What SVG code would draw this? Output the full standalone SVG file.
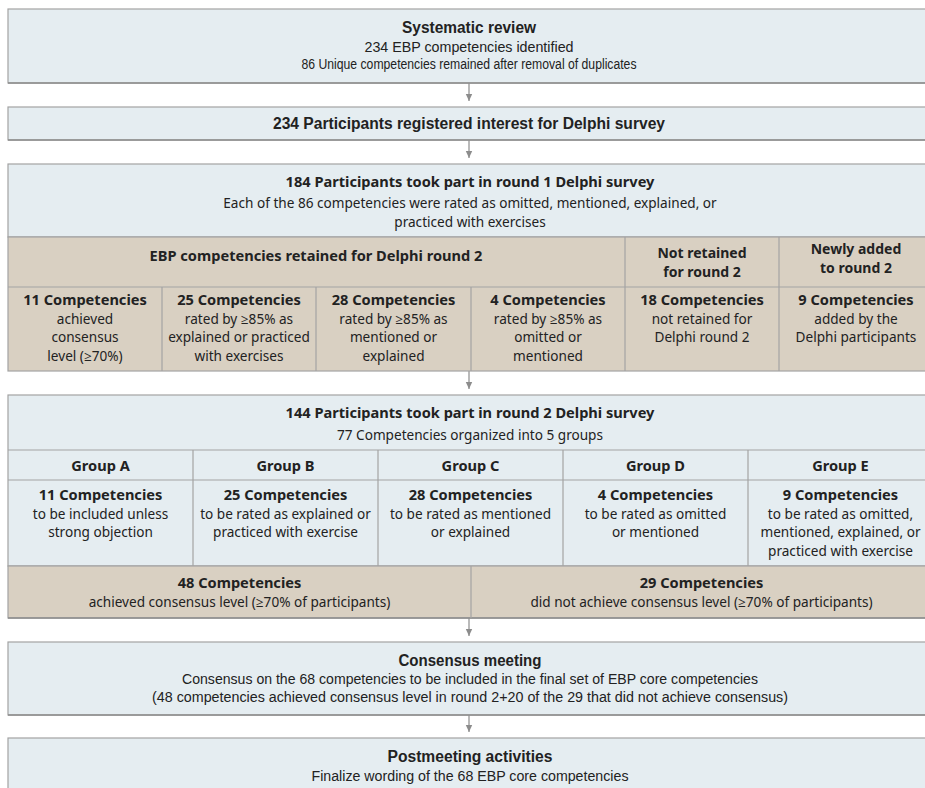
<svg xmlns="http://www.w3.org/2000/svg" width="925" height="788" viewBox="0 0 925 788">
<style>
.blue{fill:#e5edf1;stroke:#a3a3a3;stroke-width:1.2}
.tan{fill:#d9d0c2;stroke:#a3a3a3;stroke-width:1.2}
.div{stroke:#a3a3a3;stroke-width:1.2}
.shadow{stroke:#8c8c8c;stroke-width:1.6}
.cn{font-family:"Liberation Sans",Arial,sans-serif;font-size:15.5px;fill:#222;text-anchor:middle}
.cb{font-family:"Liberation Sans",Arial,sans-serif;font-size:16px;font-weight:bold;fill:#222;text-anchor:middle}
.n{font-family:"Noto Sans","Open Sans",sans-serif;font-size:13.6px;fill:#222;text-anchor:middle}
.b{font-family:"Noto Sans","Open Sans",sans-serif;font-size:14.6px;font-weight:bold;fill:#222;text-anchor:middle}
.h{font-family:"Noto Sans","Open Sans",sans-serif;font-size:14px;font-weight:bold;fill:#222;text-anchor:middle}
.conn{stroke:#8c8c8c;stroke-width:1.2;fill:none}
</style>
<defs>
<marker id="ah" markerWidth="8" markerHeight="8" refX="7" refY="4" orient="auto" markerUnits="userSpaceOnUse">
<path d="M0,0.8 L7,4 L0,7.2 Z" fill="#8c8c8c"/>
</marker>
</defs>

<g id="connectors">
<line class="conn" x1="469" y1="83" x2="469" y2="101" marker-end="url(#ah)"/>
<line class="conn" x1="469" y1="140" x2="469" y2="158" marker-end="url(#ah)"/>
<line class="conn" x1="469" y1="371" x2="469" y2="389" marker-end="url(#ah)"/>
<line class="conn" x1="469" y1="618" x2="469" y2="636" marker-end="url(#ah)"/>
<line class="conn" x1="469" y1="715" x2="469" y2="732" marker-end="url(#ah)"/>
</g>

<g id="systematic-review">
<rect class="blue" x="8" y="9" width="924" height="74"/>
<line class="shadow" x1="8" y1="83" x2="932" y2="83"/>
<text class="cb" x="469" y="33" textLength="134" lengthAdjust="spacingAndGlyphs">Systematic review</text>
<text class="cn" x="469" y="52" textLength="209" lengthAdjust="spacingAndGlyphs">234 EBP competencies identified</text>
<text class="cn" x="469" y="69" textLength="335" lengthAdjust="spacingAndGlyphs">86 Unique competencies remained after removal of duplicates</text>
</g>

<g id="registered">
<rect class="blue" x="8" y="107" width="924" height="33"/>
<line class="shadow" x1="8" y1="140" x2="932" y2="140"/>
<text class="cb" x="469" y="129" textLength="392" lengthAdjust="spacingAndGlyphs">234 Participants registered interest for Delphi survey</text>
</g>

<g id="round1">
<rect class="blue" x="8" y="164" width="924" height="73"/>
<rect class="tan" x="8" y="237" width="924" height="134"/>
<line class="div" x1="8" y1="287" x2="932" y2="287"/>
<line class="div" x1="625" y1="237" x2="625" y2="371"/>
<line class="div" x1="779" y1="237" x2="779" y2="371"/>
<line class="div" x1="162" y1="287" x2="162" y2="371"/>
<line class="div" x1="316" y1="287" x2="316" y2="371"/>
<line class="div" x1="471" y1="287" x2="471" y2="371"/>
<text class="b" x="470" y="187">184 Participants took part in round 1 Delphi survey</text>
<text class="n" x="470" y="208">Each of the 86 competencies were rated as omitted, mentioned, explained, or</text>
<text class="n" x="470" y="227">practiced with exercises</text>
<text class="b" x="316" y="261">EBP competencies retained for Delphi round 2</text>
<text class="h" x="702" y="258">Not retained</text>
<text class="h" x="702" y="277">for round 2</text>
<text class="h" x="856" y="254">Newly added</text>
<text class="h" x="856" y="273">to round 2</text>

<text class="b" x="85" y="305">11 Competencies</text>
<text class="n" x="85" y="324">achieved</text>
<text class="n" x="85" y="342">consensus</text>
<text class="n" x="85" y="361">level (≥70%)</text>

<text class="b" x="239" y="305">25 Competencies</text>
<text class="n" x="239" y="324">rated by ≥85% as</text>
<text class="n" x="239" y="342">explained or practiced</text>
<text class="n" x="239" y="361">with exercises</text>

<text class="b" x="393.5" y="305">28 Competencies</text>
<text class="n" x="393.5" y="324">rated by ≥85% as</text>
<text class="n" x="393.5" y="342">mentioned or</text>
<text class="n" x="393.5" y="361">explained</text>

<text class="b" x="548" y="305">4 Competencies</text>
<text class="n" x="548" y="324">rated by ≥85% as</text>
<text class="n" x="548" y="342">omitted or</text>
<text class="n" x="548" y="361">mentioned</text>

<text class="b" x="702" y="305">18 Competencies</text>
<text class="n" x="702" y="324">not retained for</text>
<text class="n" x="702" y="342">Delphi round 2</text>

<text class="b" x="856" y="305">9 Competencies</text>
<text class="n" x="856" y="324">added by the</text>
<text class="n" x="856" y="342">Delphi participants</text>
</g>

<g id="round2">
<rect class="blue" x="8" y="395" width="924" height="171"/>
<rect class="tan" x="8" y="566" width="924" height="52"/>
<line class="shadow" x1="8" y1="618" x2="932" y2="618"/>
<line class="div" x1="8" y1="450" x2="932" y2="450"/>
<line class="div" x1="8" y1="480" x2="932" y2="480"/>
<line class="div" x1="193" y1="450" x2="193" y2="566"/>
<line class="div" x1="378" y1="450" x2="378" y2="566"/>
<line class="div" x1="563" y1="450" x2="563" y2="566"/>
<line class="div" x1="748" y1="450" x2="748" y2="566"/>
<line class="div" x1="471" y1="566" x2="471" y2="618"/>
<text class="b" x="470" y="418">144 Participants took part in round 2 Delphi survey</text>
<text class="n" x="470" y="440">77 Competencies organized into 5 groups</text>

<text class="b" x="100.5" y="471">Group A</text>
<text class="b" x="285.5" y="471">Group B</text>
<text class="b" x="470.5" y="471">Group C</text>
<text class="b" x="655.5" y="471">Group D</text>
<text class="b" x="840.5" y="471">Group E</text>

<text class="b" x="100.5" y="500">11 Competencies</text>
<text class="n" x="100.5" y="518.5">to be included unless</text>
<text class="n" x="100.5" y="537">strong objection</text>

<text class="b" x="285.5" y="500">25 Competencies</text>
<text class="n" x="285.5" y="518.5">to be rated as explained or</text>
<text class="n" x="285.5" y="537">practiced with exercise</text>

<text class="b" x="470.5" y="500">28 Competencies</text>
<text class="n" x="470.5" y="518.5">to be rated as mentioned</text>
<text class="n" x="470.5" y="537">or explained</text>

<text class="b" x="655.5" y="500">4 Competencies</text>
<text class="n" x="655.5" y="518.5">to be rated as omitted</text>
<text class="n" x="655.5" y="537">or mentioned</text>

<text class="b" x="840.5" y="500">9 Competencies</text>
<text class="n" x="840.5" y="518.5">to be rated as omitted,</text>
<text class="n" x="840.5" y="537">mentioned, explained, or</text>
<text class="n" x="840.5" y="556">practiced with exercise</text>

<text class="b" x="239.5" y="588">48 Competencies</text>
<text class="n" x="239.5" y="607">achieved consensus level (≥70% of participants)</text>
<text class="b" x="701.5" y="588">29 Competencies</text>
<text class="n" x="701.5" y="607">did not achieve consensus level (≥70% of participants)</text>
</g>

<g id="consensus-meeting">
<rect class="blue" x="8" y="642" width="924" height="73"/>
<line class="shadow" x1="8" y1="715" x2="932" y2="715"/>
<text class="cb" x="470" y="666" textLength="143" lengthAdjust="spacingAndGlyphs">Consensus meeting</text>
<text class="cn" x="470" y="684" textLength="576" lengthAdjust="spacingAndGlyphs">Consensus on the 68 competencies to be included in the final set of EBP core competencies</text>
<text class="cn" x="470" y="702" textLength="636" lengthAdjust="spacingAndGlyphs">(48 competencies achieved consensus level in round 2+20 of the 29 that did not achieve consensus)</text>
</g>

<g id="postmeeting">
<rect class="blue" x="8" y="738" width="924" height="60"/>
<text class="cb" x="470" y="762" textLength="165" lengthAdjust="spacingAndGlyphs">Postmeeting activities</text>
<text class="cn" x="470" y="781" textLength="317" lengthAdjust="spacingAndGlyphs">Finalize wording of the 68 EBP core competencies</text>
</g>
</svg>
